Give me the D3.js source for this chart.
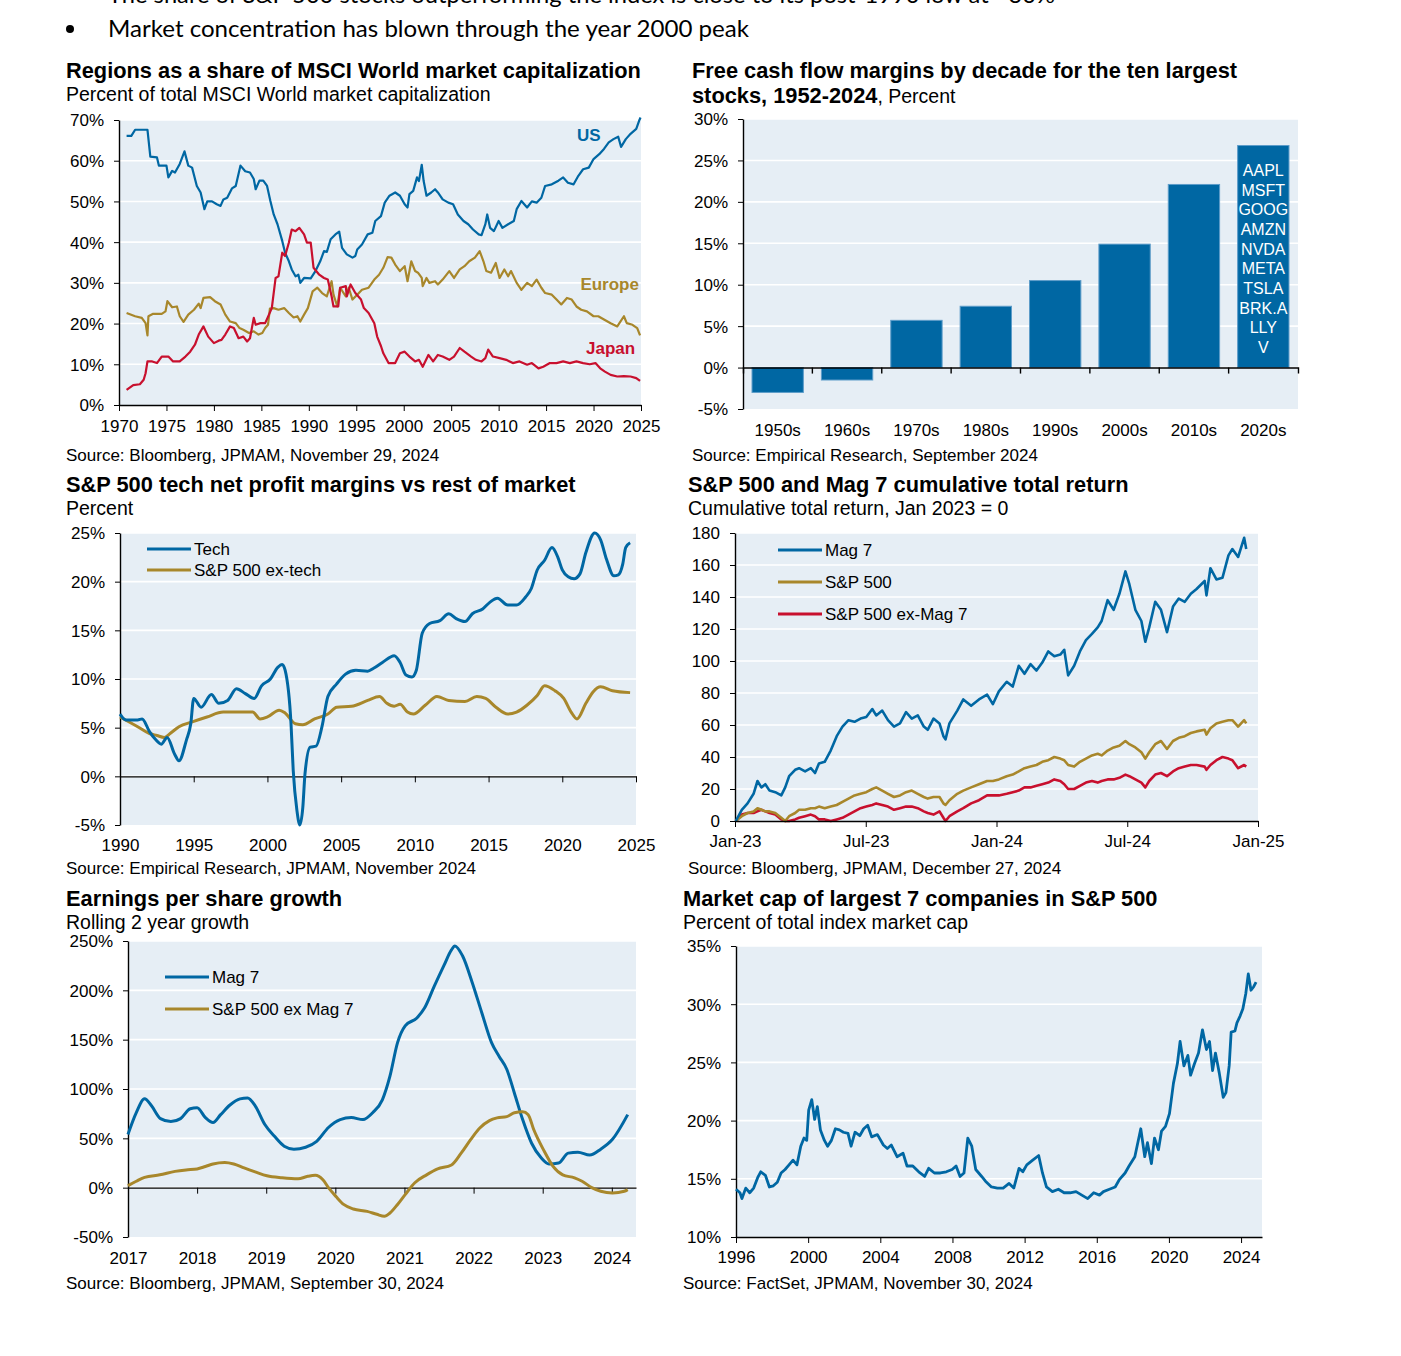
<!DOCTYPE html>
<html>
<head>
<meta charset="utf-8">
<script src="https://cdn.jsdelivr.net/npm/d3@7"></script>
<style>
body { margin: 0; background: #fff; }
svg text { font-family: "Liberation Sans", Arial, sans-serif; fill: #000; }
</style>
</head>
<body>
<svg id="chart"></svg>
<script>
// ---- data ----
const usShare = [[1970.8,66.1],[1971.3,66.1],[1971.7,67.6],[1973.0,67.6],[1973.3,61],[1974.0,60.8],[1974.2,58.8],[1975.0,58.8],[1975.2,55.9],[1975.6,57.5],[1975.9,57.1],[1976.4,59.2],[1976.9,62.3],[1977.3,58.8],[1977.7,58.3],[1978.2,53.8],[1978.6,52.2],[1979.0,48.1],[1979.3,50],[1979.8,50],[1980.3,49.3],[1980.7,48.9],[1981.0,50.5],[1981.4,50.9],[1981.9,53.2],[1982.3,53.8],[1982.8,58.8],[1983.3,57.4],[1983.8,57.1],[1984.2,55.5],[1984.4,53],[1984.8,55.1],[1985.2,55.1],[1985.6,53.8],[1985.95,50.1],[1986.3,46.8],[1986.7,44.4],[1987.2,40.3],[1987.5,37.4],[1987.9,35.3],[1988.2,33.3],[1988.6,31.6],[1988.9,32],[1989.1,30],[1989.5,31.2],[1990.2,31.1],[1990.7,32.9],[1991.2,35.3],[1991.6,37.8],[1991.9,37.6],[1992.3,40.7],[1992.8,41.9],[1993.2,42.6],[1993.5,38.6],[1994.0,37],[1994.6,36.2],[1994.9,36.6],[1995.1,38.2],[1995.6,39.4],[1996.2,41.9],[1996.7,42.3],[1997.0,45.2],[1997.6,46.4],[1998.0,49.7],[1998.5,51.4],[1999.1,52.2],[1999.6,51.4],[2000.1,49.3],[2000.4,48.5],[2000.6,51.8],[2001.0,52.6],[2001.4,55.9],[2001.6,55],[2001.9,59],[2002.1,55],[2002.4,51.4],[2002.9,52.2],[2003.3,53],[2003.6,52.2],[2004.1,50.5],[2004.7,49.7],[2005.2,49.3],[2005.7,46.8],[2006.3,45.2],[2006.8,44.4],[2007.3,43.1],[2007.9,41.9],[2008.2,41.7],[2008.6,44.4],[2008.8,46.8],[2009.1,43.5],[2009.5,42.7],[2010.0,45.2],[2010.4,43.5],[2011.0,44.4],[2011.6,45.2],[2011.9,48.1],[2012.4,50.1],[2013.0,48.5],[2013.5,50],[2014.0,49.7],[2014.5,50.9],[2014.9,53.8],[2015.6,54.2],[2016.3,55.1],[2016.8,55.9],[2017.3,54.6],[2017.9,54.2],[2018.4,56.3],[2018.9,57.9],[2019.5,58.3],[2020.0,60.4],[2020.6,61.6],[2021.1,62.9],[2021.6,64.5],[2022.1,65.3],[2022.6,65.9],[2022.9,63.4],[2023.4,65.3],[2023.9,66.6],[2024.5,67.8],[2024.8,69.8],[2024.95,70.6]];
const europeShare = [[1970.8,22.6],[1971.7,21.8],[1972.4,21.4],[1972.8,20.1],[1973.0,17.1],[1973.1,21.8],[1973.6,22.4],[1974.5,22.4],[1974.9,23],[1975.1,25.5],[1975.6,24],[1976.1,24.2],[1976.4,21.8],[1976.8,20.4],[1977.3,22.2],[1977.9,23.4],[1978.4,24.9],[1978.6,23.8],[1978.9,26.3],[1979.6,26.5],[1980.1,25.5],[1980.7,24.7],[1981.2,22.2],[1981.7,20.5],[1982.3,20.1],[1982.7,18.9],[1983.1,18.5],[1983.7,17.7],[1984.2,18.1],[1984.7,17.3],[1985.1,17.7],[1985.4,18.9],[1985.7,19.7],[1985.9,23.7],[1986.3,23.8],[1986.8,23.4],[1987.4,23.8],[1987.9,22.6],[1988.4,21.5],[1988.8,21.8],[1989.1,20.5],[1989.5,22.2],[1989.9,23.8],[1990.4,27.9],[1990.9,28.8],[1991.4,27.5],[1991.9,26.7],[1992.4,30.4],[1992.6,27.1],[1993.0,24.2],[1993.3,28.8],[1993.9,26.7],[1994.2,28.8],[1994.6,25.9],[1995.1,27.1],[1995.6,28.3],[1996.3,28.8],[1996.9,30.8],[1997.4,32],[1997.85,33.7],[1998.3,36.3],[1998.7,36.2],[1999.1,34.5],[1999.6,32.9],[2000.1,34.1],[2000.4,30.4],[2000.8,35.3],[2001.2,32.9],[2001.5,32.5],[2001.9,31.2],[2002.0,29.2],[2002.4,31.2],[2002.7,30],[2003.3,30.4],[2003.6,29.6],[2004.1,30.8],[2004.8,32.9],[2005.3,31.2],[2005.9,33.3],[2006.4,34.1],[2006.9,35.3],[2007.5,36.2],[2008.0,37.8],[2008.4,35.3],[2008.7,32.9],[2009.2,32.5],[2009.7,34.9],[2010.1,31.2],[2010.6,33.3],[2011.0,31.6],[2011.3,32.9],[2011.9,30],[2012.4,28.3],[2013.0,30],[2013.5,29.2],[2014.0,30.8],[2014.5,28.8],[2014.9,27.5],[2015.6,27.1],[2016.1,25.9],[2016.6,24.7],[2017.2,26.3],[2017.7,25.9],[2018.2,24.2],[2018.7,23.4],[2019.3,23],[2020.0,21.8],[2020.5,21.8],[2021.1,21],[2021.8,20.1],[2022.5,19.3],[2023.2,21.8],[2023.5,20.1],[2024.1,19.7],[2024.6,18.9],[2024.9,17.1]];
const japanShare = [[1970.8,3.7],[1971.5,4.9],[1972.2,5.1],[1972.6,6.2],[1972.8,7.8],[1973.0,10.7],[1973.5,10.7],[1974.0,10.3],[1974.5,11.9],[1975.2,11.9],[1975.7,10.7],[1976.4,10.7],[1977.0,11.9],[1977.5,13.1],[1978.0,14.8],[1978.4,17.3],[1978.9,19.3],[1979.4,16.8],[1980.0,15.2],[1980.5,15.8],[1980.8,16],[1981.2,17.3],[1981.7,19.3],[1982.1,18.9],[1982.6,16.4],[1983.1,16.8],[1983.5,15.6],[1983.8,16.4],[1984.2,21.4],[1984.4,19.7],[1984.9,20.1],[1985.4,20.1],[1985.8,22.2],[1986.1,23.8],[1986.5,31.2],[1986.8,31.6],[1987.2,37.4],[1987.5,36.6],[1987.9,39.9],[1988.2,43.1],[1988.6,42.7],[1989.0,43.5],[1989.5,41.9],[1989.8,39.9],[1990.2,39.9],[1990.5,33.7],[1991.1,32],[1991.6,31.2],[1992.0,30.8],[1992.4,26.7],[1992.6,24.2],[1993.1,24.2],[1993.3,28.8],[1993.9,29.2],[1994.0,26.7],[1994.4,29.6],[1994.9,27.5],[1995.5,25.9],[1995.8,23.8],[1996.3,22.6],[1996.9,20.1],[1997.2,16.8],[1997.6,14.5],[1997.85,12.7],[1998.4,10.3],[1999.1,10.3],[1999.6,12.7],[2000.1,13.1],[2000.6,11.9],[2001.2,10.7],[2001.6,11.1],[2002.0,9.4],[2002.6,12.3],[2003.1,10.7],[2003.6,12.3],[2004.1,11.9],[2004.8,11.1],[2005.3,11.9],[2005.9,14],[2006.4,13.1],[2007.1,11.9],[2007.6,11.1],[2008.2,10.7],[2008.6,11.5],[2008.9,13.6],[2009.4,11.9],[2010.1,11.5],[2010.8,11.1],[2011.5,10.3],[2012.2,10.7],[2013.0,9.9],[2013.5,10.3],[2014.2,9],[2014.7,9.4],[2015.4,10.3],[2016.1,10.3],[2016.8,10.7],[2017.5,10.3],[2018.2,10.7],[2018.9,10.3],[2019.6,10],[2020.2,10.3],[2020.7,9],[2021.2,8.2],[2021.8,7.4],[2022.5,7],[2023.2,7.1],[2023.9,7],[2024.5,6.6],[2024.9,5.9]];
const regionLabels = ["US", "Europe", "Japan"];

const decades = ["1950s","1960s","1970s","1980s","1990s","2000s","2010s","2020s"];
const fcfMargin = [-3.0, -1.5, 5.7, 7.4, 10.5, 14.9, 22.1, 26.8];
const top10Tickers = ["AAPL","MSFT","GOOG","AMZN","NVDA","META","TSLA","BRK.A","LLY","V"];

const techMargin = [[1990,6.4],[1990.4,5.8],[1991.2,5.8],[1991.5,5.9],[1992.0,4.6],[1992.4,3.8],[1992.8,3.3],[1993.2,4.0],[1993.7,2.3],[1994.0,1.6],[1994.5,3.7],[1994.8,5.4],[1995.0,8.0],[1995.5,7.1],[1996.2,8.4],[1996.7,7.5],[1997.3,7.8],[1997.9,9.0],[1998.5,8.5],[1999.1,8.0],[1999.6,9.3],[2000.2,10.0],[2000.7,11.2],[2001.0,11.5],[2001.2,10.9],[2001.6,5.4],[2001.75,0.6],[2002.0,-3.5],[2002.2,-5],[2002.4,-3.2],[2002.55,0.3],[2002.9,3.0],[2003.3,3.1],[2003.7,5.1],[2004.1,8.2],[2004.7,9.5],[2005.3,10.5],[2006.0,10.9],[2006.8,10.8],[2007.2,11.1],[2007.8,11.7],[2008.6,12.4],[2009.0,11.7],[2009.4,10.4],[2009.8,10.2],[2010.1,10.9],[2010.5,14.7],[2011.0,15.7],[2011.7,16],[2012.3,16.7],[2012.8,16.2],[2013.4,15.9],[2013.9,16.7],[2014.6,17.2],[2015.1,17.9],[2015.6,18.3],[2016.3,17.6],[2016.9,17.6],[2017.5,18.4],[2017.9,19.3],[2018.3,21.2],[2018.8,22.2],[2019.3,23.5],[2019.7,22.5],[2020.0,21.2],[2020.4,20.5],[2020.8,20.3],[2021.2,20.8],[2021.6,23],[2022.2,25],[2022.6,24.3],[2023.0,22.3],[2023.5,20.6],[2023.8,20.7],[2024.1,21.8],[2024.3,23.5],[2024.6,24]];
const exTechMargin = [[1990,6.1],[1991.2,5.1],[1992,4.4],[1992.5,4.2],[1993.0,4.0],[1993.4,4.4],[1994.0,5.1],[1994.9,5.6],[1995.9,6.1],[1997.0,6.6],[1998.1,6.6],[1999.0,6.6],[1999.5,5.9],[2000.0,6.1],[2000.8,6.8],[2001.2,6.5],[2001.9,5.4],[2002.4,5.3],[2003.2,5.9],[2004.1,6.4],[2004.7,7.1],[2005.7,7.2],[2006.8,7.8],[2007.6,8.2],[2008.1,7.5],[2008.6,7.2],[2009.0,7.4],[2009.5,6.6],[2009.9,6.4],[2010.7,7.3],[2011.5,8.2],[2012.3,7.8],[2013.4,7.7],[2014.2,8.2],[2014.8,8.0],[2015.5,7.1],[2016.3,6.4],[2016.9,6.6],[2017.6,7.3],[2018.3,8.3],[2018.8,9.3],[2019.5,8.8],[2020.1,8.0],[2020.6,6.6],[2021.0,5.9],[2021.6,7.5],[2022.1,8.7],[2022.6,9.2],[2023.4,8.8],[2024.6,8.6]];

// cumulative total return, dates as fractional years
const retDates = [2023.003,2023.026,2023.048,2023.071,2023.086,2023.101,2023.116,2023.132,2023.154,2023.177,2023.192,2023.207,2023.230,2023.245,2023.268,2023.290,2023.306,2023.321,2023.343,2023.366,2023.389,2023.411,2023.434,2023.457,2023.480,2023.502,2023.525,2023.540,2023.563,2023.585,2023.608,2023.631,2023.654,2023.676,2023.699,2023.722,2023.737,2023.759,2023.782,2023.797,2023.805,2023.820,2023.850,2023.873,2023.903,2023.933,2023.964,2023.986,2024.009,2024.039,2024.062,2024.085,2024.107,2024.130,2024.153,2024.175,2024.198,2024.221,2024.244,2024.259,2024.274,2024.297,2024.319,2024.342,2024.365,2024.387,2024.402,2024.425,2024.448,2024.470,2024.493,2024.508,2024.531,2024.554,2024.569,2024.584,2024.607,2024.629,2024.652,2024.675,2024.697,2024.720,2024.743,2024.765,2024.796,2024.803,2024.818,2024.841,2024.864,2024.887,2024.902,2024.924,2024.947,2024.955];
const retMag7 = [0,7,11,17,25,21,23,19,18,16,21,28,32,33,31,33,30,36,37,44,53,59,63,62,64,65,70,66,69,63,59,61,68,64,66,59,57,64,61,53,51,61,69,76,72,76,79,73,81,87,84,97,92,98,94,99,106,103,104,107,91,97,106,113,117,121,125,138,132,142,156,148,132,125,112,121,137,132,118,134,139,137,142,145,150,141,158,151,152,166,170,165,177,170];
const retSpx = [0,3,5,6,8,7,6,6,5,2,0,3,5,7,7,8,8,9,8,9,10,12,14,16,17,18,20,21,19,17,15,16,18,19,17,15,14,15,15,11,10,13,17,19,21,23,25,25,26,28,29,31,33,34,35,37,38,40,39,38,35,34,37,39,41,42,41,44,46,47,50,48,46,43,39,43,48,50,45,50,52,53,55,56,57,54,58,61,62,63,63,59,63,61];
const retSpxExMag7 = [0,4,5,5,6,7,6,5,4,1,0,0,1,2,3,4,3,1,1,0,1,2,4,6,8,9,10,11,10,9,7,8,9,9,8,6,5,4,6,2,0,3,6,8,11,13,16,16,16,17,18,19,21,21,22,23,24,26,25,23,20,20,22,24,25,24,25,26,26,27,29,28,26,24,21,25,29,30,28,31,33,34,35,35,34,32,35,38,40,39,38,33,35,34];
const retTickLabels = ["Jan-23","Jul-23","Jan-24","Jul-24","Jan-25"];

const epsMag7 = [[2017,54],[2017.12,76],[2017.24,90],[2017.34,83],[2017.47,70],[2017.62,67],[2017.76,70],[2017.9,80],[2018,81],[2018.12,71],[2018.23,66],[2018.34,74],[2018.48,84],[2018.62,90],[2018.73,91],[2018.84,83],[2018.98,64],[2019.12,52],[2019.26,42],[2019.4,39],[2019.57,41],[2019.73,47],[2019.9,61],[2020.07,69],[2020.23,71],[2020.4,69],[2020.54,76],[2020.68,89],[2020.79,113],[2020.9,147],[2021.01,164],[2021.18,172],[2021.29,182],[2021.43,204],[2021.57,225],[2021.68,241],[2021.73,245],[2021.84,235],[2021.98,208],[2022.12,177],[2022.26,147],[2022.37,133],[2022.48,120],[2022.59,96],[2022.71,69],[2022.84,45],[2022.98,30],[2023.09,24],[2023.23,25],[2023.37,35],[2023.51,36],[2023.68,33],[2023.84,39],[2024.01,49],[2024.23,74]];
const epsExMag7 = [[2017,2],[2017.12,6.5],[2017.24,10.5],[2017.46,13],[2017.68,16.5],[2017.84,18],[2018,19],[2018.12,21.5],[2018.23,24],[2018.4,25.5],[2018.53,24],[2018.68,20],[2018.84,16],[2019.01,12],[2019.23,10],[2019.46,9],[2019.6,11.5],[2019.71,12.5],[2019.82,8],[2019.9,0],[2020.01,-9],[2020.12,-17],[2020.26,-21.6],[2020.46,-24],[2020.6,-27],[2020.71,-29],[2020.79,-25.7],[2020.9,-17],[2021.01,-7],[2021.15,5],[2021.32,13],[2021.48,19],[2021.68,23],[2021.82,35],[2021.96,49],[2022.09,60.5],[2022.23,68],[2022.34,70.7],[2022.48,72],[2022.59,76],[2022.71,77],[2022.79,74],[2022.87,59],[2023.01,38.6],[2023.15,21.6],[2023.29,13],[2023.46,10],[2023.57,6.5],[2023.71,0],[2023.84,-3.7],[2024.01,-5.4],[2024.18,-3.7],[2024.23,-2]];

const top7Share = [[1996.0,14.1],[1996.22,13.8],[1996.33,13.3],[1996.54,14.2],[1996.76,13.8],[1996.98,14.2],[1997.2,15.1],[1997.37,15.6],[1997.63,15.3],[1997.85,14.3],[1998.07,14.4],[1998.29,14.7],[1998.5,15.5],[1998.72,15.8],[1998.94,16.2],[1999.16,16.6],[1999.38,16.2],[1999.59,17.8],[1999.77,18.5],[1999.92,18.3],[2000.03,20.9],[2000.2,21.8],[2000.36,20.1],[2000.51,21.2],[2000.68,19.2],[2000.9,18.3],[2001.08,17.8],[2001.29,18.3],[2001.51,19.3],[2001.73,19.2],[2001.95,19.0],[2002.21,18.9],[2002.38,17.8],[2002.6,19.0],[2002.86,18.7],[2003.08,19.3],[2003.3,19.6],[2003.52,18.6],[2003.84,18.8],[2004.17,17.9],[2004.39,17.6],[2004.61,17.9],[2004.93,16.9],[2005.26,17.2],[2005.48,16.1],[2005.8,16.1],[2006.13,15.6],[2006.46,15.2],[2006.68,15.9],[2007.0,15.5],[2007.33,15.5],[2007.66,15.6],[2007.98,15.8],[2008.2,16.1],[2008.42,15.2],[2008.64,15.5],[2008.85,18.5],[2009.07,17.8],[2009.29,15.8],[2009.62,15.2],[2009.83,14.8],[2010.16,14.3],[2010.49,14.2],[2010.81,14.2],[2011.14,14.6],[2011.4,14.2],[2011.69,15.9],[2011.9,15.6],[2012.12,16.2],[2012.45,16.6],[2012.78,17.0],[2012.99,15.5],[2013.21,14.3],[2013.54,13.9],[2013.87,14.1],[2014.19,13.8],[2014.52,13.8],[2014.85,13.9],[2015.17,13.6],[2015.5,13.3],[2015.83,13.8],[2016.15,13.6],[2016.37,13.9],[2016.7,14.1],[2017.02,14.3],[2017.24,14.9],[2017.57,15.5],[2017.79,16.1],[2018.11,16.9],[2018.44,19.3],[2018.66,16.9],[2018.81,18.1],[2019.03,16.3],[2019.2,18.5],[2019.42,17.5],[2019.59,19.1],[2019.81,19.5],[2020.03,20.6],[2020.25,23.2],[2020.47,24.9],[2020.62,26.8],[2020.83,24.7],[2021.05,25.6],[2021.2,23.9],[2021.42,24.9],[2021.64,25.8],[2021.86,27.8],[2022.08,26.1],[2022.25,26.8],[2022.42,24.3],[2022.58,25.8],[2022.79,24.1],[2023.01,22.0],[2023.16,22.4],[2023.34,24.7],[2023.45,27.6],[2023.66,27.7],[2023.77,28.4],[2023.95,29.0],[2024.1,29.6],[2024.26,30.9],[2024.4,32.6],[2024.55,31.2],[2024.7,31.5],[2024.83,31.9]];

// ---- drawing ----
const FONT = '"Liberation Sans", Arial, sans-serif';
const BLUE = "#0067a3", GOLD = "#a8872b", RED = "#c8102e", BG = "#e6eef5";
const svg = d3.select("#chart").attr("width", 1401).attr("height", 1356);
svg.append("rect").attr("width", 1401).attr("height", 1356).attr("fill", "#fff");

function text(x, y, s, size, weight, anchor, color) {
  return svg.append("text").attr("x", x).attr("y", y).text(s)
    .attr("font-size", size).attr("font-weight", weight || "normal")
    .attr("text-anchor", anchor || "start").style("fill", color || "#000");
}

function heading(x, y, title, sub, source, sourceY) {
  text(x, y, title, 21.8, "bold");
  if (sub) text(x, y + 23, sub, 19.5);
  text(x, sourceY, source, 17);
}

// background, grid and y axis
function frame(x, y, yTicks, yFmt) {
  const [L, R] = x.range();
  const [B, T] = y.range();
  svg.append("rect").attr("x", L).attr("y", T).attr("width", R - L).attr("height", B - T).attr("fill", BG);
  svg.append("g").selectAll("line").data(yTicks.slice(1)).join("line")
    .attr("x1", L).attr("x2", R).attr("y1", d => y(d)).attr("y2", d => y(d))
    .attr("stroke", "#fff").attr("stroke-width", 1.6);
  const ya = svg.append("g").attr("transform", `translate(${L},0)`)
    .call(d3.axisLeft(y).tickValues(yTicks).tickFormat(yFmt).tickSize(5).tickSizeOuter(0).tickPadding(10))
    .attr("font-size", 17).attr("font-family", FONT);
  ya.select(".domain").attr("stroke-width", 1.4);
  ya.selectAll("text").attr("dy", "0.35em");
}

function xAxis(x, y, at, ticks, fmt, labelY) {
  const zy = y(at);
  const xa = svg.append("g").attr("transform", `translate(0,${zy})`)
    .call(d3.axisBottom(x).tickValues(ticks).tickFormat(fmt).tickSize(6).tickSizeOuter(0))
    .attr("font-size", 17).attr("font-family", FONT);
  xa.select(".domain").attr("stroke-width", 1.4);
  xa.selectAll("text").attr("y", labelY - zy).attr("dy", 0);
}

function drawLine(data, x, y, color, width, curve) {
  svg.append("path").datum(data)
    .attr("d", d3.line().x(d => x(d[0])).y(d => y(d[1])).curve(curve || d3.curveLinear))
    .attr("fill", "none").attr("stroke", color).attr("stroke-width", width)
    .attr("stroke-linejoin", "round");
}

function legend(x, y, step, items) {
  items.forEach((it, i) => {
    svg.append("line").attr("x1", x).attr("x2", x + 44).attr("y1", y + i * step).attr("y2", y + i * step)
      .attr("stroke", it[1]).attr("stroke-width", 3.2);
    text(x + 47, y + i * step + 6, it[0], 17);
  });
}

const pct = d => d + "%";

// bullets at top
svg.append("text").attr("x", 108).attr("y", 3).text("The share of S&P 500 stocks outperforming the index is close to its post-1990 low at ~30%")
  .attr("font-size", 23).style("font-family", "Lato, 'Open Sans', sans-serif").attr("textLength", 947).attr("lengthAdjust", "spacingAndGlyphs");
svg.append("circle").attr("cx", 70).attr("cy", 29).attr("r", 4);
svg.append("text").attr("x", 108).attr("y", 37).text("Market concentration has blown through the year 2000 peak")
  .attr("font-size", 23).style("font-family", "Lato, 'Open Sans', sans-serif").attr("textLength", 641).attr("lengthAdjust", "spacingAndGlyphs");

// 1. Regions share of MSCI World
{
  heading(66, 78, "Regions as a share of MSCI World market capitalization", "Percent of total MSCI World market capitalization",
    "Source: Bloomberg, JPMAM, November 29, 2024", 461);
  const x = d3.scaleLinear().domain([1970, 2025]).range([119, 641]);
  const y = d3.scaleLinear().domain([0, 70]).range([405, 120]);
  frame(x, y, d3.range(0, 71, 10), pct);
  xAxis(x, y, 0, d3.range(1970, 2026, 5), d3.format("d"), 432);
  drawLine(usShare, x, y, BLUE, 2.2);
  drawLine(europeShare, x, y, GOLD, 2.2);
  drawLine(japanShare, x, y, RED, 2.2);
  const labelPos = [[2019.5, 64.9], [2021.7, 28.3], [2021.8, 12.5]];
  const labelCol = [BLUE, GOLD, RED];
  regionLabels.forEach((s, i) => text(x(labelPos[i][0]), y(labelPos[i][1]), s, 17, "bold", "middle", labelCol[i]));
}

// 2. Free cash flow margins by decade
{
  svg.append("text").attr("x", 692).attr("y", 78).attr("font-size", 21.8).attr("font-weight", "bold")
    .text("Free cash flow margins by decade for the ten largest");
  const t2 = svg.append("text").attr("x", 692).attr("y", 103).attr("font-size", 21.8);
  t2.append("tspan").attr("font-weight", "bold").text("stocks, 1952-2024");
  t2.append("tspan").attr("font-size", 19.5).text(", Percent");
  text(692, 461, "Source: Empirical Research, September 2024", 17);
  const x = d3.scaleBand().domain(decades).range([743, 1298]).paddingInner(0.26).paddingOuter(0.13);
  const y = d3.scaleLinear().domain([-5, 30]).range([409, 119]);
  const xl = d3.scaleLinear().domain([0, 1]).range([743, 1298]);
  frame(xl, y, d3.range(-5, 31, 5), pct);
  svg.append("g").selectAll("rect").data(decades).join("rect")
    .attr("x", d => x(d)).attr("width", x.bandwidth())
    .attr("y", (d, i) => y(Math.max(0, fcfMargin[i])))
    .attr("height", (d, i) => Math.abs(y(fcfMargin[i]) - y(0)))
    .attr("fill", BLUE).attr("stroke", "#5d9cc9").attr("stroke-width", 1);
  const xa = svg.append("g").attr("transform", `translate(0,${y(0)})`)
    .call(d3.axisBottom(x).tickSize(0).tickSizeOuter(6))
    .attr("font-size", 17).attr("font-family", FONT);
  xa.select(".domain").attr("stroke-width", 1.4);
  xa.selectAll("text").attr("y", 436 - y(0)).attr("dy", 0);
  const gap = (x.step() - x.bandwidth()) / 2;
  svg.append("g").selectAll("line").data(decades.slice(1)).join("line")
    .attr("x1", d => x(d) - gap).attr("x2", d => x(d) - gap)
    .attr("y1", y(0)).attr("y2", y(0) + 6).attr("stroke", "#000").attr("stroke-width", 1.4);
  const last = decades[decades.length - 1];
  top10Tickers.forEach((s, i) => text(x(last) + x.bandwidth() / 2, 176 + i * 19.67, s, 16, "normal", "middle", "#fff"));
}

// 3. Tech net profit margins
{
  heading(66, 492, "S&P 500 tech net profit margins vs rest of market", "Percent",
    "Source: Empirical Research, JPMAM, November 2024", 874);
  const x = d3.scaleLinear().domain([1990, 2025]).range([120, 636]);
  const y = d3.scaleLinear().domain([-5, 25]).range([825, 533]);
  frame(x, y, d3.range(-5, 26, 5), pct);
  xAxis(x, y, 0, d3.range(1990, 2026, 5), d3.format("d"), 851);
  drawLine(exTechMargin, x, y, GOLD, 3, d3.curveMonotoneX);
  drawLine(techMargin, x, y, BLUE, 3, d3.curveMonotoneX);
  legend(147, 549, 21, [["Tech", BLUE], ["S&P 500 ex-tech", GOLD]]);
}

// 4. Cumulative total return
{
  heading(688, 492, "S&P 500 and Mag 7 cumulative total return", "Cumulative total return, Jan 2023 = 0",
    "Source: Bloomberg, JPMAM, December 27, 2024", 874);
  const x = d3.scaleLinear().domain([2023, 2025]).range([735, 1258]);
  const y = d3.scaleLinear().domain([0, 180]).range([821, 533]);
  frame(x, y, d3.range(0, 181, 20), d => d);
  const z = (vals) => retDates.map((d, i) => [d, vals[i]]);
  drawLine(z(retSpxExMag7), x, y, RED, 2.6);
  drawLine(z(retSpx), x, y, GOLD, 2.6);
  drawLine(z(retMag7), x, y, BLUE, 2.6);
  xAxis(x, y, 0, [2023, 2023.5, 2024, 2024.5, 2025], (d, i) => retTickLabels[i], 847);
  legend(778, 550, 32, [["Mag 7", BLUE], ["S&P 500", GOLD], ["S&P 500 ex-Mag 7", RED]]);
}

// 5. EPS growth
{
  heading(66, 906, "Earnings per share growth", "Rolling 2 year growth",
    "Source: Bloomberg, JPMAM, September 30, 2024", 1289);
  const x = d3.scaleLinear().domain([2017, 2024.35]).range([128, 636]);
  const y = d3.scaleLinear().domain([-50, 250]).range([1237, 941]);
  frame(x, y, d3.range(-50, 251, 50), pct);
  xAxis(x, y, 0, d3.range(2017, 2025, 1), d3.format("d"), 1264);
  drawLine(epsMag7, x, y, BLUE, 3, d3.curveMonotoneX);
  drawLine(epsExMag7, x, y, GOLD, 3, d3.curveMonotoneX);
  legend(165, 977, 32, [["Mag 7", BLUE], ["S&P 500 ex Mag 7", GOLD]]);
}

// 6. Market cap of largest 7
{
  heading(683, 906, "Market cap of largest 7 companies in S&P 500", "Percent of total index market cap",
    "Source: FactSet, JPMAM, November 30, 2024", 1289);
  const x = d3.scaleLinear().domain([1996, 2025.16]).range([736, 1262]);
  const y = d3.scaleLinear().domain([10, 35]).range([1237, 946]);
  frame(x, y, d3.range(10, 36, 5), pct);
  xAxis(x, y, 10, d3.range(1996, 2025, 4), d3.format("d"), 1263);
  drawLine(top7Share, x, y, BLUE, 2.8);
}
</script>
</body>
</html>
